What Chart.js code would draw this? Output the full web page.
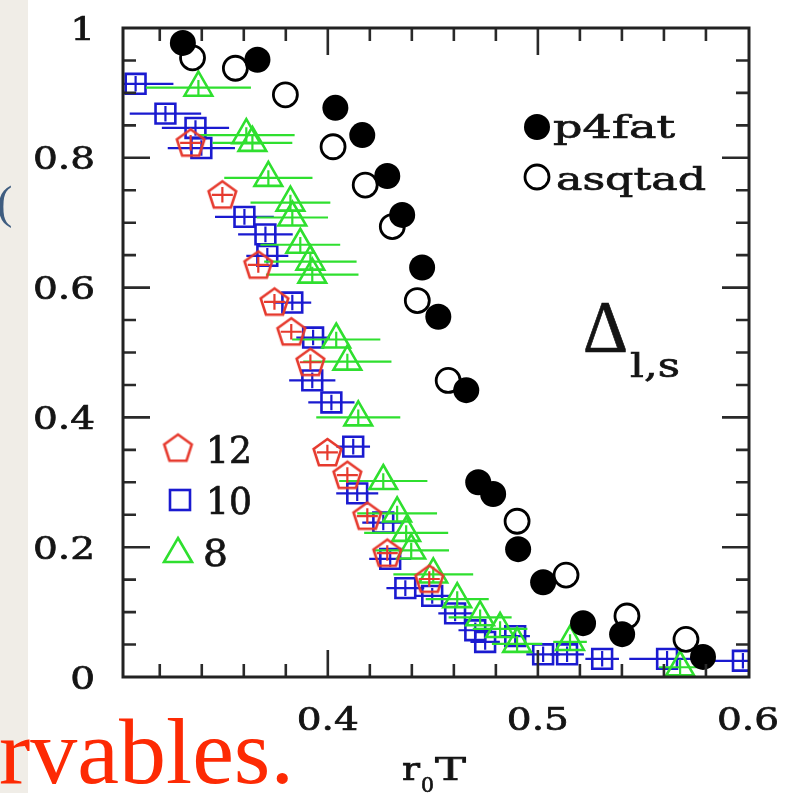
<!DOCTYPE html>
<html>
<head>
<meta charset="utf-8">
<script src="https://cdn.jsdelivr.net/npm/chart.js@4.4.0/dist/chart.umd.min.js"></script>
<style>
  html, body { margin: 0; padding: 0; }
  body { width: 785px; height: 793px; background: #f0ede7; position: relative; overflow: hidden; }
  #paper { position: absolute; left: 28px; top: 0; width: 757px; height: 793px; background: #fff; }
  #c { position: absolute; left: 0; top: 0; }
  #paren { position: absolute; left: -3px; top: 180px; font: 46px "Liberation Serif"; line-height: 46px; color: #3f5d80; }
  #word { position: absolute; left: -1px; top: 704px; font: 94px "Liberation Serif"; line-height: 94px; color: #fd2a04; white-space: nowrap; }
</style>
</head>
<body>
<div id="paper"></div>
<canvas id="c" width="785" height="793"></canvas>
<div id="paren">(</div>
<div id="word">rvables.</div>
<script>
// axis ranges and labels
const xMin = 0.3025, xMax = 0.6005;
const xTickValues = [0.4, 0.5, 0.6];
const xTickLabels = ['0.4', '0.5', '0.6'];
const yTickValues = [0, 0.2, 0.4, 0.6, 0.8, 1];
const yTickLabels = ['0', '0.2', '0.4', '0.6', '0.8', '1'];

// p4fat (filled circles)
const p4fatX = [0.331, 0.3665, 0.4036, 0.4164, 0.4283, 0.4354, 0.4449, 0.4526, 0.4659, 0.4716, 0.4787, 0.4906, 0.5025, 0.5215, 0.5401, 0.5786];
const p4fatY = [0.977, 0.951, 0.877, 0.835, 0.772, 0.712, 0.631, 0.555, 0.442, 0.300, 0.282, 0.197, 0.146, 0.083, 0.066, 0.031];

// asqtad (open circles)
const asqtadX = [0.3356, 0.356, 0.3798, 0.4025, 0.4178, 0.4307, 0.4426, 0.4573, 0.4901, 0.5134, 0.5424, 0.5705];
const asqtadY = [0.954, 0.938, 0.897, 0.817, 0.758, 0.694, 0.580, 0.457, 0.240, 0.157, 0.094, 0.058];

// HISQ N_tau = 12 (pentagons)
const nt12X = [0.3347, 0.3498, 0.3669, 0.3746, 0.3826, 0.3917, 0.3998, 0.4093, 0.4188, 0.4283, 0.4483];
const nt12Y = [0.823, 0.743, 0.635, 0.578, 0.532, 0.485, 0.346, 0.311, 0.248, 0.191, 0.151];
const nt12XErr = [0.005, 0.005, 0.005, 0.005, 0.005, 0.005, 0.005, 0.005, 0.005, 0.005, 0.005];
const nt12YErr = 0.012;

// HISQ N_tau = 10 (squares)
const nt10X = [0.3085, 0.3227, 0.3370, 0.3398, 0.3603, 0.3703, 0.3712, 0.3831, 0.3930, 0.3926, 0.4017, 0.4121, 0.4140, 0.4264, 0.4297, 0.4369, 0.4497, 0.4606, 0.4702, 0.4749, 0.4892, 0.5025, 0.5139, 0.5306, 0.5615, 0.5976];
const nt10Y = [0.914, 0.868, 0.846, 0.815, 0.709, 0.682, 0.649, 0.577, 0.523, 0.457, 0.423, 0.355, 0.283, 0.238, 0.182, 0.137, 0.125, 0.098, 0.072, 0.054, 0.063, 0.035, 0.035, 0.028, 0.028, 0.025];
const nt10XErr = [0.018, 0.017, 0.016, 0.016, 0.014, 0.013, 0.010, 0.009, 0.008, 0.011, 0.011, 0.008, 0.010, 0.010, 0.010, 0.009, 0.008, 0.008, 0.008, 0.007, 0.007, 0.008, 0.008, 0.008, 0.018, 0.018];
const nt10YErr = 0.012;

// HISQ N_tau = 8 (triangles)
const nt8X = [0.3384, 0.3612, 0.3641, 0.3717, 0.3822, 0.3831, 0.3869, 0.3917, 0.3926, 0.4040, 0.4093, 0.4145, 0.4264, 0.4330, 0.4373, 0.4397, 0.4502, 0.4616, 0.4725, 0.4820, 0.4901, 0.5153, 0.5677];
const nt8Y = [0.908, 0.835, 0.823, 0.769, 0.731, 0.708, 0.666, 0.640, 0.620, 0.520, 0.486, 0.400, 0.302, 0.252, 0.222, 0.195, 0.158, 0.120, 0.092, 0.074, 0.051, 0.054, 0.015];
const nt8XErr = [0.025, 0.023, 0.019, 0.021, 0.019, 0.017, 0.019, 0.022, 0.022, 0.021, 0.021, 0.020, 0.021, 0.019, 0.020, 0.018, 0.019, 0.015, 0.015, 0.013, 0.012, 0.008, 0.010];
const nt8YErr = 0.012;

const RED = '#e63a2e', BLUE = '#1a1ad0', GREEN = '#2fdf2f';
const SERIF = '"DejaVu Serif", serif';

function pts(xs, ys) { return xs.map((x, i) => ({ x: x, y: ys[i] })); }

// pentagon marker as a small canvas (Chart.js has no built-in one)
function makePentagon(r, color, lw) {
  const s = Math.ceil(2 * r + 2 * lw);
  const c = document.createElement('canvas');
  c.width = s; c.height = s;
  const g = c.getContext('2d');
  g.beginPath();
  for (let i = 0; i < 5; i++) {
    const a = -Math.PI / 2 + i * 2 * Math.PI / 5;
    const px = s / 2 + r * Math.cos(a), py = s / 2 + 1 + r * Math.sin(a);
    if (i) g.lineTo(px, py); else g.moveTo(px, py);
  }
  g.closePath();
  g.strokeStyle = color; g.lineWidth = lw; g.stroke();
  return c;
}
const pent = makePentagon(14.5, RED, 2.6);

// text with horizontal stretch to a target width, slightly heavy like the scan
function wideText(ctx, str, x, y, font, w, align) {
  ctx.save();
  ctx.font = font;
  const m = ctx.measureText(str).width;
  ctx.translate(x, y);
  ctx.scale(w ? w / m : 1, 1);
  ctx.textAlign = align || 'left';
  ctx.textBaseline = 'alphabetic';
  ctx.strokeStyle = ctx.fillStyle;
  ctx.lineWidth = 0.7;
  ctx.fillText(str, 0, 0);
  ctx.strokeText(str, 0, 0);
  ctx.restore();
}

// horizontal + vertical error bars, drawn just under each dataset
const errorBars = {
  id: 'errorBars',
  beforeDatasetDraw(chart, args) {
    const ds = chart.data.datasets[args.index];
    if (!ds.xErr) return;
    const { ctx, chartArea: a, scales: { x, y } } = chart;
    ctx.save();
    ctx.beginPath();
    ctx.rect(a.left, a.top, a.right - a.left, a.bottom - a.top);
    ctx.clip();
    ctx.strokeStyle = ds.borderColor;
    ctx.lineWidth = 2.2;
    ds.data.forEach((p, i) => {
      const px = x.getPixelForValue(p.x), py = y.getPixelForValue(p.y);
      ctx.beginPath();
      ctx.moveTo(x.getPixelForValue(p.x - ds.xErr[i]), py);
      ctx.lineTo(x.getPixelForValue(p.x + ds.xErr[i]), py);
      ctx.moveTo(px, y.getPixelForValue(p.y - ds.yErr));
      ctx.lineTo(px, y.getPixelForValue(p.y + ds.yErr));
      ctx.stroke();
    });
    ctx.restore();
  }
};

// frame, inward ticks, labels and the in-plot legends
const frame = {
  id: 'frame',
  afterDraw(chart) {
    const { ctx, chartArea: a, scales: { x, y } } = chart;
    ctx.save();
    ctx.strokeStyle = '#2a2a2a';
    ctx.lineWidth = 2.6;
    ctx.beginPath();
    for (let i = 16; i < 30; i++) {
      const px = x.getPixelForValue(i * 0.02);
      const len = i % 5 === 0 ? 27 : 13;
      ctx.moveTo(px, a.top); ctx.lineTo(px, a.top + len);
      ctx.moveTo(px, a.bottom); ctx.lineTo(px, a.bottom - len);
    }
    for (let i = 1; i < 20; i++) {
      const py = y.getPixelForValue(i * 0.05);
      const len = i % 4 === 0 ? 27 : 13;
      ctx.moveTo(a.left, py); ctx.lineTo(a.left + len, py);
      ctx.moveTo(a.right, py); ctx.lineTo(a.right - len, py);
    }
    ctx.stroke();
    ctx.lineWidth = 3;
    ctx.strokeStyle = '#222';
    ctx.strokeRect(a.left, a.top, a.right - a.left, a.bottom - a.top);

    ctx.fillStyle = '#141414';
    const tickFont = '32px ' + SERIF;
    ctx.font = tickFont;
    yTickValues.forEach((v, i) => {
      const w = ctx.measureText(yTickLabels[i]).width * 1.22;
      wideText(ctx, yTickLabels[i], 95, y.getPixelForValue(v) + 11.5, tickFont, w, 'right');
      ctx.font = tickFont;
    });
    xTickValues.forEach((v, i) => {
      const w = ctx.measureText(xTickLabels[i]).width * 1.22;
      wideText(ctx, xTickLabels[i], x.getPixelForValue(v), 730, tickFont, w, 'center');
      ctx.font = tickFont;
    });

    // axis title r0T
    wideText(ctx, 'r', 402, 780, '32px ' + SERIF, 18);
    wideText(ctx, '0', 421, 792, '20px ' + SERIF, 13);
    wideText(ctx, 'T', 435, 780, '32px ' + SERIF, 31);

    // Delta_{l,s}
    wideText(ctx, '\u0394', 583, 352, '75px "Liberation Serif"', 45);
    wideText(ctx, 'l,s', 630, 377, '34px ' + SERIF, 50);

    // top-right legend
    ctx.fillStyle = '#000';
    ctx.beginPath(); ctx.arc(537, 127, 13, 0, 2 * Math.PI); ctx.fill();
    ctx.lineWidth = 2.8; ctx.strokeStyle = '#000';
    ctx.beginPath(); ctx.arc(537, 177, 12, 0, 2 * Math.PI); ctx.stroke();
    ctx.fillStyle = '#141414';
    wideText(ctx, 'p4fat', 553, 138, '32px ' + SERIF, 122);
    wideText(ctx, 'asqtad', 556, 190, '32px ' + SERIF, 150);

    // bottom-left legend
    ctx.drawImage(pent, 178 - pent.width / 2, 448 - pent.height / 2);
    ctx.lineWidth = 2.6;
    ctx.strokeStyle = BLUE;
    ctx.strokeRect(170, 490, 20, 20);
    ctx.strokeStyle = GREEN;
    ctx.beginPath();
    ctx.moveTo(178, 538); ctx.lineTo(192, 562); ctx.lineTo(164, 562); ctx.closePath();
    ctx.stroke();
    ctx.fillStyle = '#141414';
    wideText(ctx, '12', 206, 463, '37px ' + SERIF, 46);
    wideText(ctx, '10', 206, 514, '37px ' + SERIF, 46);
    wideText(ctx, '8', 203, 566, '37px ' + SERIF, 25);
    ctx.restore();
  }
};

new Chart(document.getElementById('c'), {
  type: 'scatter',
  data: {
    datasets: [
      { label: 'p4fat', data: pts(p4fatX, p4fatY), pointStyle: 'circle', pointRadius: 13,
        backgroundColor: '#000', borderColor: '#000', borderWidth: 0, order: 0, clip: 0 },
      { label: 'asqtad', data: pts(asqtadX, asqtadY), pointStyle: 'circle', pointRadius: 12,
        backgroundColor: '#fff', borderColor: '#000', borderWidth: 2.8, order: 1, clip: 0 },
      { label: '12', data: pts(nt12X, nt12Y), xErr: nt12XErr, yErr: nt12YErr, pointStyle: pent, pointRadius: 14,
        backgroundColor: 'rgba(0,0,0,0)', borderColor: RED, borderWidth: 2.6, order: 2, clip: 0 },
      { label: '8', data: pts(nt8X, nt8Y), xErr: nt8XErr, yErr: nt8YErr, pointStyle: 'triangle', pointRadius: 16,
        backgroundColor: 'rgba(0,0,0,0)', borderColor: GREEN, borderWidth: 2.6, order: 3, clip: 0 },
      { label: '10', data: pts(nt10X, nt10Y), xErr: nt10XErr, yErr: nt10YErr, pointStyle: 'rect', pointRadius: 14,
        backgroundColor: 'rgba(0,0,0,0)', borderColor: BLUE, borderWidth: 2.6, order: 4, clip: 0 }
    ]
  },
  options: {
    responsive: false,
    animation: false,
    events: [],
    layout: { padding: { left: 123, top: 28, right: 785 - 749, bottom: 793 - 677 } },
    scales: {
      x: { type: 'linear', min: xMin, max: xMax, display: false },
      y: { type: 'linear', min: 0, max: 1, display: false }
    },
    plugins: { legend: { display: false }, tooltip: { enabled: false } }
  },
  plugins: [errorBars, frame]
});
</script>
</body>
</html>
